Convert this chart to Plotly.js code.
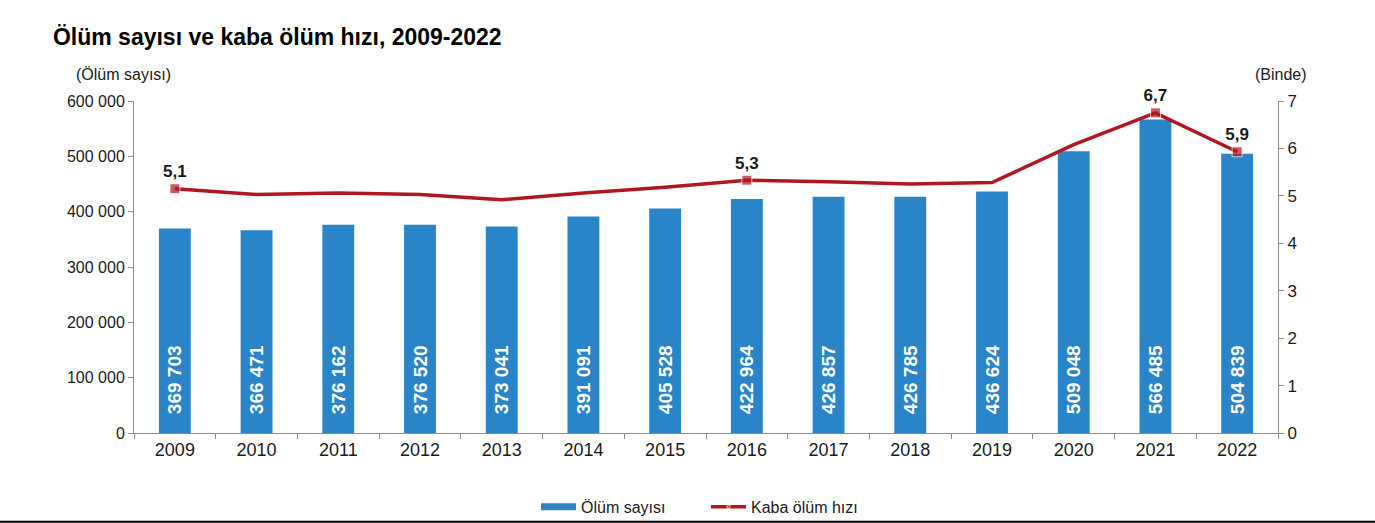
<!DOCTYPE html>
<html>
<head>
<meta charset="utf-8">
<script src="https://cdn.plot.ly/plotly-3.0.1.min.js"></script>
<style>
html,body{margin:0;padding:0;background:#fff;}
#chart{width:1375px;height:523px;}
</style>
</head>
<body>
<div id="chart"></div>
<script>
var years = ['2009','2010','2011','2012','2013','2014','2015','2016','2017','2018','2019','2020','2021','2022'];
var deaths = [369703, 366471, 376162, 376520, 373041, 391091, 405528, 422964, 426857, 426785, 436624, 509048, 566485, 504839];
var rate = [5.15, 5.03, 5.06, 5.03, 4.92, 5.06, 5.18, 5.33, 5.30, 5.25, 5.28, 6.08, 6.75, 5.93];
var rateLabels = ['5,1','','','','','','','5,3','','','','','6,7','5,9'];

var FONT = 'Liberation Sans, Arial, sans-serif';
var NB = '\u00a0';
function fmt(v){ return String(v).replace(/\B(?=(\d{3})+(?!\d))/g, ' '); }
var barText = deaths.map(function(v){ return NB+NB+NB + fmt(v); });
var markerSizes = rateLabels.map(function(t){ return t ? 10 : 0; });
var legendOnly = years.map(function(){ return null; });

var traces = [
  {
    type: 'bar', name: 'Ölüm sayısı', x: years, y: deaths,
    marker: {color: '#2A84C8'}, showlegend: false,
    text: barText, textposition: 'inside', insidetextanchor: 'start',
    textangle: -90, constraintext: 'none',
    textfont: {family: FONT, size: 19, color: '#ffffff', weight: 'bold'}
  },
  {
    type: 'scatter', mode: 'lines', name: 'Ölüm sayısı', x: years, y: legendOnly,
    line: {color: '#2A84C8', width: 7}, hoverinfo: 'skip'
  },
  {
    type: 'scatter', mode: 'lines+markers+text', name: 'Kaba ölüm hızı',
    x: years, y: rate, yaxis: 'y2',
    line: {color: '#B0171F', width: 3.5},
    marker: {symbol: 'square', size: markerSizes, color: '#B0171F'},
    text: rateLabels, textposition: 'top center',
    textfont: {family: FONT, size: 17, color: '#1a1a1a', weight: 'bold'},
    cliponaxis: false
  }
];

var layout = {
  width: 1375, height: 523,
  margin: {l: 134, r: 97, t: 101, b: 90},
  paper_bgcolor: '#ffffff', plot_bgcolor: '#ffffff',
  separators: ', ',
  font: {family: FONT, size: 16, color: '#1a1a1a'},
  title: {
    text: 'Ölüm sayısı ve kaba ölüm hızı, 2009-2022',
    font: {family: FONT, size: 23, color: '#000000', weight: 'bold'},
    x: 0.0385, xanchor: 'left', xref: 'container',
    y: 0.93, yanchor: 'middle', yref: 'container'
  },
  bargap: 0.61,
  showlegend: true,
  legend: {
    orientation: 'h', xref: 'paper', x: 0.5, xanchor: 'center',
    yref: 'container', y: 0.031, yanchor: 'middle',
    bgcolor: 'rgba(0,0,0,0)',
    font: {family: FONT, size: 16, color: '#1a1a1a'},
    itemwidth: 35, entrywidth: 120, traceorder: 'normal'
  },
  xaxis: {
    type: 'category', range: [-0.5, 13.5], autorange: false,
    showline: true, linecolor: '#8c8c8c', linewidth: 1,
    ticks: 'outside', tickson: 'boundaries', ticklen: 5, tickcolor: '#8c8c8c',
    showgrid: false, tickfont: {family: FONT, size: 18, color: '#1a1a1a'}
  },
  yaxis: {
    range: [0, 600000], dtick: 100000, tickformat: ',d',
    showline: true, linecolor: '#8c8c8c', linewidth: 1,
    ticks: 'outside', ticklen: 5, tickcolor: '#8c8c8c',
    showgrid: false, zeroline: false,
    tickfont: {family: FONT, size: 16, color: '#1a1a1a'}
  },
  yaxis2: {
    range: [0, 7], dtick: 1, overlaying: 'y', side: 'right',
    showline: true, linecolor: '#8c8c8c', linewidth: 1,
    ticks: 'outside', ticklen: 5, tickcolor: '#8c8c8c',
    showgrid: false, zeroline: false,
    tickfont: {family: FONT, size: 17, color: '#1a1a1a'}
  },
  annotations: [
    {text: '(Ölüm sayısı)', xref: 'paper', yref: 'paper', x: -0.0524, y: 1.08,
     xanchor: 'left', yanchor: 'middle', showarrow: false,
     font: {family: FONT, size: 16, color: '#1a1a1a'}},
    {text: '(Binde)', xref: 'paper', yref: 'paper', x: 1.003, y: 1.08,
     xanchor: 'center', yanchor: 'middle', showarrow: false,
     font: {family: FONT, size: 16, color: '#1a1a1a'}}
  ],
  shapes: [
    {type: 'line', xref: 'paper', yref: 'paper', x0: -0.2, x1: 1.2, y0: -0.267, y1: -0.267,
     line: {color: '#000000', width: 2}}
  ]
};

Plotly.newPlot('chart', traces, layout, {displayModeBar: false, staticPlot: true});
</script>
</body>
</html>
